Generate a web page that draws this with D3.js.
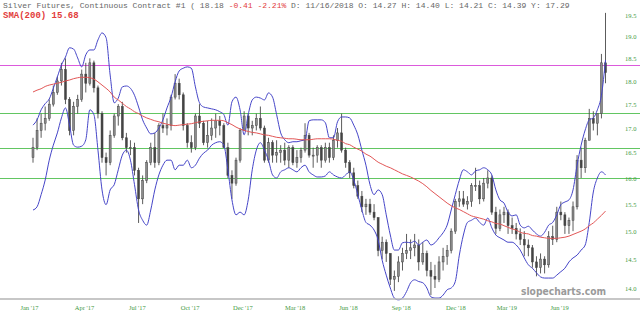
<!DOCTYPE html>
<html>
<head>
<meta charset="utf-8">
<script src="https://cdn.jsdelivr.net/npm/d3@7"></script>
<style>
  body { margin: 0; background: #fff; }
  svg { display: block; }
</style>
</head>
<body>
<svg id="chart" width="640" height="319"></svg>
<script>
// weekly bars, first week starting Mon 2 Jan 2017
const firstWeek = new Date(2017, 0, 2);

const opens = [16.40,16.60,16.95,17.10,17.20,17.50,17.75,18.00,18.25,17.60,16.95,17.45,17.60,18.15,17.95,18.40,17.85,17.30,16.40,16.30,
  16.85,17.25,17.45,16.80,16.60,16.60,16.15,15.60,15.95,16.30,16.60,16.30,17.05,17.00,17.05,17.65,17.95,17.70,17.05,16.70,
  16.60,17.25,17.10,16.70,16.85,17.00,17.15,17.05,16.60,16.05,15.90,16.35,16.95,17.25,17.00,17.05,17.20,17.00,16.35,16.70,
  16.45,16.50,16.55,16.35,16.60,16.30,16.40,16.55,16.85,16.45,16.45,16.60,16.35,16.60,16.40,16.75,16.90,16.55,16.30,16.10,
  15.85,15.65,15.45,15.50,15.35,15.25,14.65,14.80,14.60,14.15,14.20,14.45,14.60,14.65,14.70,14.75,14.45,14.60,14.30,14.20,
  14.15,14.45,14.55,14.65,15.00,15.55,15.60,15.50,15.55,15.85,15.85,15.60,15.90,16.00,15.35,15.05,15.30,15.35,15.10,15.05,
  14.95,14.85,14.75,14.70,14.45,14.35,14.50,14.40,14.90,14.85,15.35,15.30,15.10,15.20,15.45,16.35,16.20,16.75,17.20,17.10,
  17.30,18.40];
const highs = [16.80,17.20,17.30,17.45,17.60,17.90,18.10,18.40,18.50,17.65,17.55,17.70,18.25,18.40,18.50,18.45,17.90,17.35,16.50,16.95,
  17.30,17.50,17.55,16.90,16.75,16.70,16.20,16.05,16.35,16.70,16.90,17.10,17.30,17.20,17.70,18.15,18.05,17.75,17.10,16.85,
  17.30,17.50,17.15,17.15,17.20,17.30,17.25,17.10,16.70,16.15,16.40,17.00,17.35,17.30,17.15,17.30,17.45,17.05,16.80,16.75,
  16.75,16.65,16.70,16.65,16.65,16.55,16.60,17.10,16.90,16.60,16.65,16.65,16.70,16.70,16.85,17.00,17.30,16.60,16.35,16.20,
  15.95,15.75,15.60,15.60,15.50,15.25,14.90,14.85,14.60,14.30,14.55,14.70,14.95,14.85,14.95,14.85,14.80,14.65,14.45,14.40,
  14.55,14.70,14.75,15.05,15.60,15.75,15.75,15.65,15.90,16.20,15.95,16.00,16.15,16.05,15.45,15.40,15.45,15.40,15.25,15.15,
  15.05,15.00,14.85,14.75,14.55,14.60,14.55,15.00,15.10,15.45,15.55,15.35,15.25,15.55,16.45,16.60,16.80,17.40,17.35,17.30,
  18.60,19.55];
const lows = [16.30,16.55,16.80,16.95,17.15,17.45,17.70,17.90,17.50,16.85,16.85,17.30,17.55,17.75,17.90,17.75,17.20,16.30,16.05,16.25,
  16.80,17.05,16.75,16.50,16.45,16.05,15.15,15.50,15.90,16.25,16.20,16.25,16.90,16.85,16.95,17.60,17.60,16.95,16.60,16.50,
  16.55,17.00,16.65,16.60,16.75,16.80,16.85,16.60,16.00,15.60,15.85,16.30,16.95,16.85,16.85,16.95,16.95,16.30,16.30,16.30,
  16.30,16.30,16.25,16.20,16.25,16.20,16.30,16.50,16.40,16.20,16.30,16.20,16.30,16.30,16.35,16.60,16.50,16.20,16.00,15.80,
  15.60,15.35,15.30,15.30,15.20,14.55,14.50,14.45,14.05,13.95,14.10,14.30,14.50,14.50,14.55,14.30,14.40,14.20,13.88,14.00,
  14.10,14.30,14.40,14.60,14.95,15.45,15.45,15.40,15.45,15.75,15.50,15.55,15.80,15.30,14.95,15.00,15.15,14.95,14.95,14.85,
  14.75,14.55,14.55,14.35,14.20,14.25,14.25,14.35,14.75,14.80,15.20,14.95,14.95,15.00,15.40,16.00,16.10,16.75,16.95,16.85,
  17.20,17.95];
const closes = [16.60,16.95,17.10,17.20,17.50,17.75,18.00,18.25,17.60,16.95,17.45,17.60,18.15,17.95,18.40,17.85,17.30,16.40,16.30,16.85,
  17.25,17.45,16.80,16.60,16.60,16.15,15.60,15.95,16.30,16.60,16.30,17.05,17.00,17.05,17.65,17.95,17.70,17.05,16.70,16.60,
  17.25,17.10,16.70,16.85,17.00,17.15,17.05,16.60,16.05,15.90,16.35,16.95,17.25,17.00,17.05,17.20,17.00,16.35,16.70,16.45,
  16.50,16.55,16.35,16.60,16.30,16.40,16.55,16.85,16.45,16.45,16.60,16.35,16.60,16.40,16.75,16.90,16.55,16.30,16.10,15.85,
  15.65,15.45,15.50,15.35,15.25,14.65,14.80,14.60,14.15,14.20,14.45,14.60,14.65,14.70,14.75,14.45,14.60,14.30,14.20,14.15,
  14.45,14.55,14.65,15.00,15.55,15.60,15.50,15.55,15.85,15.85,15.60,15.90,16.00,15.35,15.05,15.30,15.35,15.10,15.05,14.95,
  14.85,14.75,14.70,14.45,14.35,14.50,14.40,14.90,14.85,15.35,15.30,15.10,15.20,15.45,16.35,16.20,16.75,17.20,17.10,17.30,
  18.40,18.18];

const sma200 = [17.76,17.80,17.83,17.88,17.91,17.93,17.95,17.97,18.00,18.02,18.05,18.07,18.08,18.08,18.07,18.04,17.98,17.91,17.84,17.76,
  17.65,17.59,17.52,17.45,17.40,17.34,17.30,17.25,17.21,17.18,17.15,17.13,17.10,17.08,17.06,17.05,17.06,17.07,17.08,17.09,
  17.11,17.13,17.14,17.15,17.16,17.16,17.16,17.15,17.11,17.07,17.02,16.98,16.95,16.93,16.91,16.90,16.88,16.86,16.85,16.83,
  16.81,16.80,16.79,16.78,16.78,16.77,16.76,16.76,16.76,16.77,16.78,16.78,16.78,16.78,16.77,16.75,16.73,16.68,16.66,16.61,
  16.57,16.53,16.47,16.43,16.37,16.31,16.27,16.23,16.20,16.16,16.12,16.08,16.05,16.02,15.98,15.94,15.89,15.83,15.76,15.70,
  15.64,15.58,15.52,15.47,15.43,15.40,15.36,15.32,15.28,15.26,15.24,15.22,15.19,15.17,15.14,15.13,15.10,15.07,15.04,15.02,
  14.98,14.96,14.95,14.92,14.91,14.89,14.88,14.87,14.87,14.87,14.88,14.89,14.91,14.94,14.97,15.00,15.04,15.10,15.15,15.22,
  15.29,15.37];

const bbUpper = [17.06,17.17,17.38,17.51,17.61,17.84,18.09,18.35,18.53,18.74,18.71,18.51,18.31,18.58,18.69,18.69,18.92,19.08,18.97,18.13,
  17.53,17.63,17.87,17.89,17.84,17.69,17.44,17.17,17.00,16.88,16.90,17.00,17.17,17.42,17.65,17.98,18.22,18.28,18.31,18.28,
  17.87,17.53,17.44,17.42,17.40,17.38,17.34,17.28,17.06,17.55,17.65,17.38,16.86,17.28,17.59,17.65,17.63,17.59,17.74,17.65,
  17.28,16.90,16.76,16.70,16.72,16.72,16.74,16.76,17.15,17.17,17.17,17.17,17.11,16.80,16.80,17.13,17.23,17.23,17.21,17.06,
  16.86,16.55,16.25,15.87,15.68,15.77,15.68,15.30,14.93,14.66,14.66,14.79,14.80,14.79,14.82,14.75,14.80,14.84,14.75,14.79,
  14.88,14.97,15.11,15.39,15.68,15.96,16.16,16.12,16.06,16.14,16.16,16.20,16.16,16.06,15.77,15.58,15.52,15.35,15.28,15.30,
  15.11,15.06,15.09,15.02,14.95,14.91,14.98,15.11,15.16,15.30,15.49,15.54,15.58,15.77,16.25,16.65,16.96,17.17,17.21,17.38,
  17.69,18.46];

const bbLower = [15.39,15.45,15.68,15.96,16.35,16.65,16.90,17.21,17.42,17.06,16.65,16.61,16.63,16.76,17.38,17.28,16.55,15.77,15.49,15.77,
  15.87,16.16,16.45,16.55,16.35,15.87,15.39,15.20,15.11,15.39,15.77,16.06,16.25,16.35,16.35,16.16,16.25,16.25,16.35,16.20,
  16.25,16.39,16.49,16.55,16.65,16.70,16.72,16.65,16.16,15.58,15.30,15.35,15.30,15.58,16.16,16.55,16.70,16.55,16.35,16.06,
  16.00,16.12,16.16,16.20,16.16,16.12,16.20,16.25,16.12,16.06,16.02,16.02,16.04,16.12,16.06,16.02,16.00,16.06,16.12,15.96,
  15.68,15.39,15.16,15.11,15.02,14.84,14.48,14.22,14.00,13.83,13.80,13.83,13.94,14.09,14.14,14.11,14.09,14.00,13.85,13.83,
  13.83,13.88,13.97,14.00,14.11,14.57,14.93,15.16,15.20,15.24,15.16,15.11,15.24,15.06,14.93,14.88,14.84,14.80,14.80,14.75,
  14.66,14.52,14.40,14.34,14.26,14.19,14.17,14.17,14.17,14.22,14.28,14.34,14.45,14.52,14.57,14.66,14.75,15.16,15.73,16.00,
  16.12,16.06];

const magentaLevels = [18.35];
const greenLevels = [17.31, 16.6, 16.0];

const priceTicks = [14.0, 14.5, 15.0, 15.5, 16.0, 16.5, 17.0, 17.5, 18.0, 18.5, 19.0, 19.5];
const timeTickDates = ['2016-12-26','2017-03-31','2017-06-30','2017-09-29','2017-12-29','2018-03-29',
  '2018-06-29','2018-09-28','2018-12-31','2019-03-29','2019-06-28'];
const timeTickLabels = ["Jan '17","Apr '17","Jul '17","Oct '17","Dec '17","Mar '18",
  "Jun '18","Sep '18","Dec '18","Mar '19","Jun '19"];

const width = 640, height = 319;
const svg = d3.select('#chart');

const weeks = d3.timeMonday.range(firstWeek, d3.timeMonday.offset(firstWeek, closes.length));
const bars = weeks.map((d, i) => ({date: d, o: opens[i], h: highs[i], l: lows[i], c: closes[i]}));

const x = d3.scaleTime()
    .domain([weeks[0], weeks[weeks.length - 1]])
    .range([33, 605.5]);
const y = d3.scaleLog()
    .domain([14, 19.5])
    .range([288, 15]);

// horizontal level lines across the whole width
svg.append('g').selectAll('line')
    .data(greenLevels)
    .join('line')
    .attr('x1', 0).attr('x2', width)
    .attr('y1', d => Math.round(y(d)) + 0.5).attr('y2', d => Math.round(y(d)) + 0.5)
    .attr('stroke', '#62c662').attr('stroke-width', 1);
svg.append('g').selectAll('line')
    .data(magentaLevels)
    .join('line')
    .attr('x1', 0).attr('x2', width)
    .attr('y1', d => Math.round(y(d)) + 0.5).attr('y2', d => Math.round(y(d)) + 0.5)
    .attr('stroke', '#dc5adc').attr('stroke-width', 1);

// candles
const candle = svg.append('g').attr('class', 'candles');
candle.selectAll('line')
    .data(bars)
    .join('line')
    .attr('x1', d => x(d.date)).attr('x2', d => x(d.date))
    .attr('y1', d => y(d.h)).attr('y2', d => y(d.l))
    .attr('stroke', '#4a4a4a').attr('stroke-width', 0.9);
candle.selectAll('rect')
    .data(bars)
    .join('rect')
    .attr('x', d => x(d.date) - 1)
    .attr('width', 2)
    .attr('y', d => y(Math.max(d.o, d.c)))
    .attr('height', d => Math.max(1, Math.abs(y(d.o) - y(d.c))))
    .attr('fill', d => d.c >= d.o ? '#8c8c8c' : '#444')
    .attr('stroke', '#444').attr('stroke-width', 0.5);

// indicators
const lineOf = vals => d3.line()
    .x((d, i) => x(weeks[i]))
    .y(d => y(d))
    .curve(d3.curveMonotoneX)(vals);

svg.append('path').attr('d', lineOf(bbUpper))
    .attr('fill', 'none').attr('stroke', '#4545c8').attr('stroke-width', 1);
svg.append('path').attr('d', lineOf(bbLower))
    .attr('fill', 'none').attr('stroke', '#4545c8').attr('stroke-width', 1);
svg.append('path').attr('d', lineOf(sma200))
    .attr('fill', 'none').attr('stroke', '#e25656').attr('stroke-width', 1);

// right price axis
const yAxis = svg.append('g')
    .attr('transform', 'translate(624,0)')
    .call(d3.axisRight(y).tickValues(priceTicks).tickFormat(d3.format('.1f')).tickSize(0).tickPadding(1));
yAxis.select('.domain').remove();
yAxis.selectAll('text')
    .attr('fill', '#3f9a3f')
    .style('font-family', '"Liberation Serif", serif')
    .style('font-size', '6.5px');

// bottom time axis
svg.append('line')
    .attr('x1', 0).attr('x2', width)
    .attr('y1', 299).attr('y2', 299)
    .attr('stroke', '#b4b4b4').attr('stroke-width', 1.5);
const parse = d3.timeParse('%Y-%m-%d');
const xAxis = svg.append('g')
    .attr('transform', 'translate(0,300)')
    .call(d3.axisBottom(x)
        .tickValues(timeTickDates.map(parse))
        .tickFormat((d, i) => timeTickLabels[i])
        .tickSize(0).tickPadding(5));
xAxis.select('.domain').remove();
xAxis.selectAll('text')
    .attr('fill', '#3f9a3f')
    .style('font-family', '"Liberation Serif", serif')
    .style('font-size', '6.5px');

// watermark
svg.append('text')
    .attr('x', 606).attr('y', 295)
    .attr('text-anchor', 'end')
    .attr('fill', '#9a9a9a')
    .style('font-family', '"DejaVu Sans", sans-serif')
    .style('font-weight', 'bold')
    .style('font-size', '10.5px')
    .attr('textLength', 85)
    .attr('lengthAdjust', 'spacingAndGlyphs')
    .text('slopecharts.com');

// header
const title = svg.append('text')
    .attr('x', 3).attr('y', 8)
    .attr('fill', '#666')
    .style('font-family', '"Liberation Mono", monospace')
    .style('font-size', '8px');
title.append('tspan').text('Silver Futures, Continuous Contract #1 ( 18.18 ');
title.append('tspan').attr('fill', '#e23b3b').text('-0.41 -2.21%');
title.append('tspan').text(' D: 11/16/2018 O: 14.27 H: 14.40 L: 14.21 C: 14.39 Y: 17.29');

svg.append('text')
    .attr('x', 3).attr('y', 18)
    .attr('fill', '#e23b3b')
    .style('font-family', '"Liberation Mono", monospace')
    .style('font-weight', 'bold')
    .style('font-size', '9px')
    .text('SMA(200) 15.68');
</script>
</body>
</html>
